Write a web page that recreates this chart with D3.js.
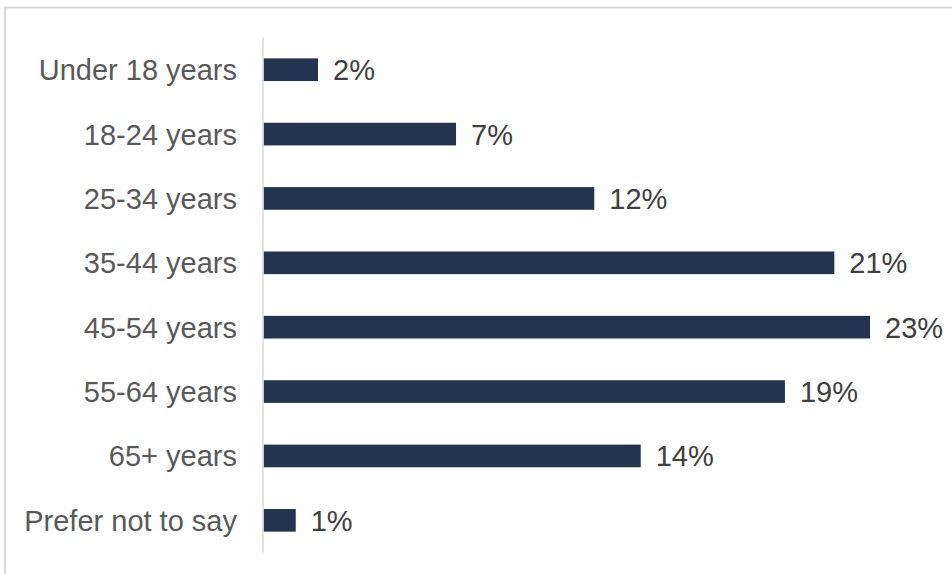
<!DOCTYPE html>
<html><head><meta charset="utf-8">
<script src="https://cdn.jsdelivr.net/npm/d3@7"></script>
<style>body{margin:0;background:#fff}svg{display:block}</style>
</head><body><svg id="c" width="952" height="574"></svg>
<script>
const categories = ["Under 18 years","18-24 years","25-34 years","35-44 years","45-54 years","55-64 years","65+ years","Prefer not to say"];
const values = [2.03, 7.17, 12.32, 21.26, 22.59, 19.42, 14.05, 1.2];
const valueLabels = ["2%","7%","12%","21%","23%","19%","14%","1%"];

const svg = d3.select("#c");
const W = 952, H = 574;
const font = "'Liberation Sans', Arial, sans-serif";

// frame
svg.append("path").attr("d", `M5,${H} L5,7.5 L${W},7.5`)
  .attr("fill","none").attr("stroke","#d9d9d9").attr("stroke-width",2);

const x = d3.scaleLinear().domain([0,25]).range([263.5, 263.5 + 25*26.85]);
const y = d3.scaleBand().domain(categories).range([37.5, 552.5]).paddingInner(0.648).paddingOuter(0.324);

const g = svg.append("g");
g.selectAll("rect.bar").data(values).join("rect").attr("class","bar")
  .attr("x", x(0)).attr("y",(d,i)=>y(categories[i]))
  .attr("width", d=>x(d)-x(0)).attr("height", y.bandwidth())
  .attr("fill","#223450");

g.selectAll("text.val").data(values).join("text").attr("class","val")
  .attr("x", d=>x(d)+15).attr("y",(d,i)=>y(categories[i])+y.bandwidth()/2)
  .attr("dy","0.36em").attr("font-family",font).attr("font-size",29)
  .attr("fill","#404040").text((d,i)=>valueLabels[i]);

const yAxis = d3.axisLeft(y).tickSize(0).tickPadding(26);
const ag = svg.append("g").attr("transform","translate(263,0)").call(yAxis);
ag.select(".domain").attr("stroke","#d9d9d9").attr("stroke-width",1.5)
  .attr("d","M0,37.5V552.5");
ag.selectAll(".tick text").attr("font-family",font).attr("font-size",29)
  .attr("fill","#595959").attr("dy","0.36em");
</script></body></html>
